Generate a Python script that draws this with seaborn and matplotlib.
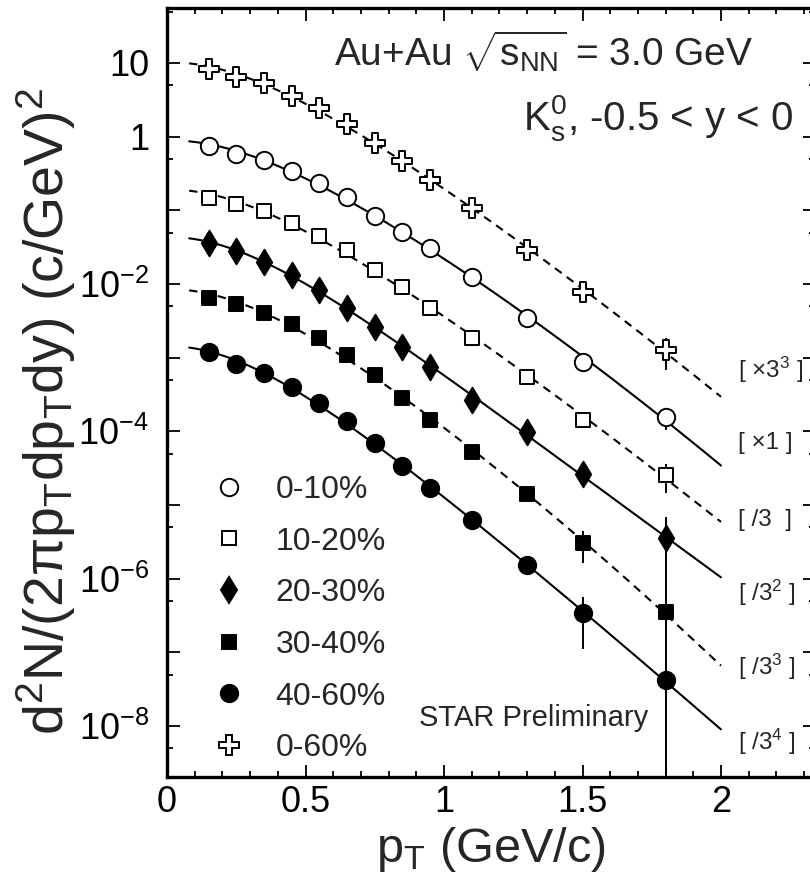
import numpy as np
import pandas as pd
import matplotlib
matplotlib.use("Agg")
import matplotlib.pyplot as plt
import seaborn as sns
from matplotlib.lines import Line2D
from matplotlib.ticker import FixedLocator, FixedFormatter, MultipleLocator, FuncFormatter

# ---------------- data ----------------
pt = [0.15, 0.25, 0.35, 0.45, 0.55, 0.65, 0.75, 0.85, 0.95, 1.1, 1.3, 1.5, 1.8]

y_0_10 = [0.746, 0.582, 0.482, 0.342, 0.235, 0.152, 0.0838, 0.0508, 0.0308, 0.01245, 0.00346, 0.000874, 0.000157]
y_10_20 = [0.147, 0.122, 0.098, 0.0673, 0.0449, 0.029, 0.0155, 0.0091, 0.00472, 0.00185, 0.000547, 0.000143, 2.55e-5]
y_20_30 = [0.0361, 0.0281, 0.0199, 0.01325, 0.0083, 0.00472, 0.0026, 0.0014, 0.000747, 0.000266, 9.8e-5, 2.64e-5, 3.56e-6]
y_30_40 = [0.00646, 0.00535, 0.00404, 0.00286, 0.00185, 0.00109, 0.000581, 0.000284, 0.000143, 5.25e-5, 1.41e-5, 3.05e-6, 3.53e-7]
y_40_60 = [0.00119, 0.00082, 0.000619, 0.0004, 0.000243, 0.000138, 6.94e-5, 3.39e-5, 1.70e-5, 6.26e-6, 1.53e-6, 3.42e-7, 4.2e-8]
y_0_60 = [8.3, 6.46, 5.35, 3.56, 2.45, 1.49, 0.82, 0.468, 0.258, 0.1077, 0.029, 0.0078, 0.00127]

e_0_10 = [0, 0, 0, 0, 0, 0, 0, 0, 0, 0, 0, 6e-5, 5.3e-5]
e_10_20 = [0, 0, 0, 0, 0, 0, 0, 0, 0, 0, 0, 1.5e-5, 1.1e-5]
e_20_30 = [0, 0, 0, 0, 0, 0, 0, 0, 0, 0, 8e-6, 6e-6, 3.3e-6]
e_30_40 = [0, 0, 0, 0, 0, 0, 0, 0, 0, 0, 2e-6, 1.4e-6, 6.7e-7]
e_40_60 = [0, 0, 0, 0, 0, 0, 0, 0, 0, 0, 2e-7, 2.3e-7, 4.3e-8]
e_0_60 = [0, 0, 0, 0, 0, 0, 0, 0, 0, 0, 0, 1e-3, 5.9e-4]

labels = ["0-10%", "10-20%", "20-30%", "30-40%", "40-60%", "0-60%"]
scale_labels = ["[ \u00d73$^3$ ]", "[ \u00d71 ]", "[ /3  ]", "[ /3$^2$ ]", "[ /3$^3$ ]", "[ /3$^4$ ]"]

K0S_MASS = 0.4976

# ---------------- style ----------------
sns.set_theme(style="ticks")
plt.rcParams["font.family"] = ["Liberation Sans", "DejaVu Sans"]
plt.rcParams["mathtext.fontset"] = "custom"
plt.rcParams["mathtext.rm"] = "Liberation Sans"
plt.rcParams["mathtext.it"] = "Liberation Sans:italic"
plt.rcParams["mathtext.bf"] = "Liberation Sans:bold"
plt.rcParams["mathtext.sf"] = "Liberation Sans"
plt.rcParams["mathtext.default"] = "regular"

fig = plt.figure(figsize=(8.10, 8.88), dpi=100)
ax = fig.add_axes([167 / 810, 111 / 888, 648 / 810, 769 / 888])
ax.set_yscale("log")

series = [
    dict(y=y_0_10, e=e_0_10, marker="o", fc="white", ms=12.5, ls="-"),
    dict(y=y_10_20, e=e_10_20, marker="s", fc="white", ms=10.5, ls="--"),
    dict(y=y_20_30, e=e_20_30, marker="d", fc="black", ms=13, ls="-"),
    dict(y=y_30_40, e=e_30_40, marker="s", fc="black", ms=10.5, ls="--"),
    dict(y=y_40_60, e=e_40_60, marker="o", fc="black", ms=12.5, ls="-"),
    dict(y=y_0_60, e=e_0_60, marker="P", fc="white", ms=14, ls="--"),
]

xfit = np.linspace(0.08, 2.0, 200)
mt_fit = np.sqrt(xfit ** 2 + K0S_MASS ** 2)
pt_arr = np.array(pt)
mt_pts = np.sqrt(pt_arr ** 2 + K0S_MASS ** 2)

for s in series:
    yv = np.array(s["y"])
    # fit curve (mT-exponential-like fit to the points)
    coef = np.polyfit(mt_pts, np.log(yv), 2)
    yfit = np.exp(np.polyval(coef, mt_fit))
    dfit = pd.DataFrame({"x": xfit, "y": yfit})
    sns.lineplot(data=dfit, x="x", y="y", ax=ax, color="black", lw=1.5,
                 linestyle=(0, (4, 3)) if s["ls"] == "--" else "-", zorder=1,
                 estimator=None, sort=False)
    ax.errorbar(pt, s["y"], yerr=s["e"], fmt="none", ecolor="black",
                elinewidth=1.4, capsize=0, zorder=2)
    dpts = pd.DataFrame({"x": pt, "y": s["y"]})
    sns.scatterplot(data=dpts, x="x", y="y", ax=ax, marker=s["marker"],
                    s=s["ms"] ** 2, color=s["fc"], edgecolor="black",
                    linewidth=1.4, zorder=3, legend=False)

# ---------------- axes ----------------
ax.set_xlim(0, 648 / 277)
ax.set_ylim(10 ** (-8 - 51 / 73.67), 10 ** (1 + 55 / 73.67))

ax.xaxis.set_major_locator(MultipleLocator(0.5))
ax.xaxis.set_minor_locator(MultipleLocator(0.1))
ax.xaxis.set_major_formatter(FuncFormatter(lambda v, p: "%g" % v))

exps = list(range(-9, 2))
ymaj = [10.0 ** k for k in exps]
ylab_map = {1: "10", 0: "1", -2: "$10^{-2}$", -4: "$10^{-4}$", -6: "$10^{-6}$", -8: "$10^{-8}$"}
ax.yaxis.set_major_locator(FixedLocator(ymaj))
ax.yaxis.set_major_formatter(FixedFormatter([ylab_map.get(k, "") for k in exps]))
ax.yaxis.set_minor_locator(FixedLocator([5 * 10.0 ** k for k in range(-10, 2)]))
ax.yaxis.set_minor_formatter(FixedFormatter([]))

ax.tick_params(which="both", direction="in", top=True, right=True, width=1.3, colors="black")
ax.tick_params(which="major", length=9, labelsize=26)
ax.tick_params(axis="y", which="major", pad=13)
ax.tick_params(axis="x", which="major", pad=6)
ax.tick_params(which="minor", length=4.5)
for sp in ax.spines.values():
    sp.set_linewidth(2.4)
    sp.set_color("black")

ax.set_xlabel("p$_{T}$ (GeV/c)", fontsize=35, labelpad=3)
ax.set_ylabel("d$^{2}$N/(2\u03c0p$_{T}$dp$_{T}$dy) (c/GeV)$^{2}$", fontsize=40,
              labelpad=0, y=0.475)

# ---------------- annotations ----------------
ax.text(0.904, 0.943, "Au+Au $\\sqrt{s_{NN}}$ = 3.0 GeV", transform=ax.transAxes,
        ha="right", va="center", fontsize=28)
ax.text(0.966, 0.857, "K$^{0}_{s}$, -0.5 < y < 0", transform=ax.transAxes,
        ha="right", va="center", fontsize=29)
ax.text(0.742, 0.077, "STAR Preliminary", transform=ax.transAxes,
        ha="right", va="center", fontsize=21)

scale_y = [0.529, 0.434, 0.334, 0.239, 0.143, 0.0455]
for lab, yy in zip(scale_labels, scale_y):
    ax.text(0.881, yy, lab, transform=ax.transAxes, ha="left", va="center", fontsize=17.5)

# ---------------- legend ----------------
handles = [Line2D([], [], ls="none", marker=s["marker"], mfc=s["fc"], mec="black",
                  ms=s["ms"], mew=1.4) for s in series]
ax.legend(handles, labels, loc="upper left", bbox_to_anchor=(0.071, 0.393),
          frameon=False, fontsize=23, handlelength=1.0, handletextpad=0.95,
          labelspacing=0.68, borderpad=0, borderaxespad=0)

fig.savefig("out.png", dpi=100)
